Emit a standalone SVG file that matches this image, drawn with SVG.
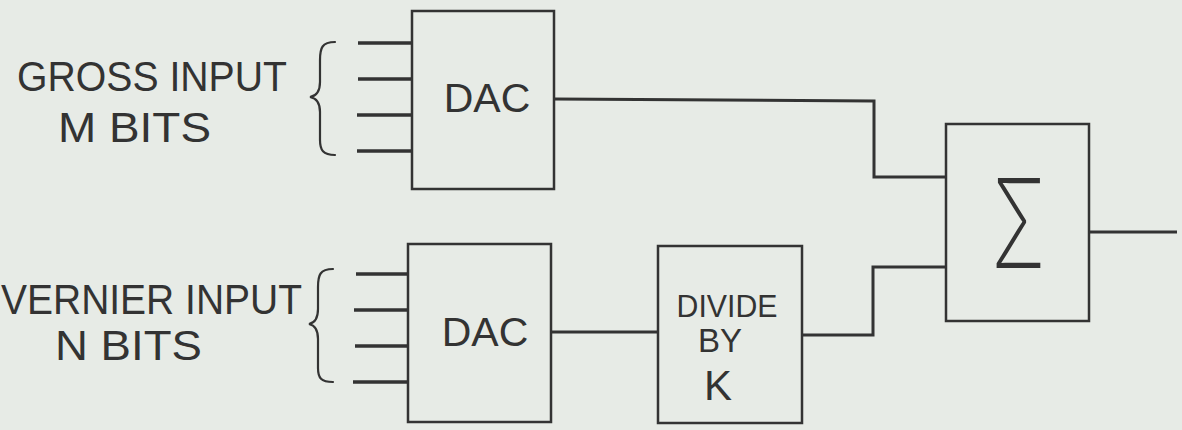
<svg xmlns="http://www.w3.org/2000/svg" width="1182" height="430" viewBox="0 0 1182 430">
<style>
.bg{fill:#e7ebe6}
.box{fill:none;stroke:#333;stroke-width:2.5}
.wire{fill:none;stroke:#333;stroke-width:3;stroke-linecap:butt;stroke-linejoin:miter}
.in{fill:none;stroke:#333;stroke-width:3.5}
.brace{fill:none;stroke:#333;stroke-width:2.2;stroke-linecap:round}
.t{font-family:"Liberation Sans",Arial,sans-serif;fill:#333}
</style>
<rect class="bg" x="0" y="0" width="1182" height="430"/>
<g id="gross-label">
<text class="t" x="17" y="91" font-size="43" textLength="270" lengthAdjust="spacingAndGlyphs">GROSS INPUT</text>
<text class="t" x="58" y="142" font-size="43" textLength="153" lengthAdjust="spacingAndGlyphs">M BITS</text>
<path class="brace" d="M335 42 C322 42 320 48 320 60 L320 82 C320 92 316 96 310 97 C316 98 320 102 320 112 L320 140 C320 150 323 155 335 155"/>
</g>
<g id="vernier-label">
<text class="t" x="1" y="314" font-size="42" textLength="301" lengthAdjust="spacingAndGlyphs">VERNIER INPUT</text>
<text class="t" x="55" y="360" font-size="43" textLength="147" lengthAdjust="spacingAndGlyphs">N BITS</text>
<path class="brace" d="M333 269 C320 269 318 275 318 287 L318 309 C318 319 314 323 309 324 C314 325 318 329 318 339 L318 368 C318 378 321 382 333 382"/>
</g>
<g id="dac-gross">
<rect class="box" x="412" y="11" width="142" height="178"/>
<text class="t" x="487" y="112" font-size="41" text-anchor="middle">DAC</text>
</g>
<g id="dac-vernier">
<rect class="box" x="408" y="244" width="143" height="178"/>
<text class="t" x="485" y="346" font-size="41" text-anchor="middle">DAC</text>
</g>
<g id="divide">
<rect class="box" x="658" y="246" width="144" height="177"/>
<text class="t" x="727" y="317" font-size="32" text-anchor="middle" textLength="101" lengthAdjust="spacingAndGlyphs">DIVIDE</text>
<text class="t" x="720" y="352" font-size="33" text-anchor="middle">BY</text>
<text class="t" x="718" y="400" font-size="42" text-anchor="middle">K</text>
</g>
<g id="sum">
<rect class="box" x="946" y="124" width="143" height="197"/>
<text class="t" x="991" y="268" font-size="124" font-weight="200" style="font-family:Inter,'DejaVu Sans',sans-serif" textLength="55" lengthAdjust="spacingAndGlyphs">Σ</text>
</g>
<g id="connectors">
<line class="in" x1="358" y1="43" x2="412" y2="43"/>
<line class="in" x1="358" y1="79" x2="412" y2="79"/>
<line class="in" x1="357" y1="115" x2="412" y2="115"/>
<line class="in" x1="357" y1="151" x2="412" y2="151"/>
<line class="in" x1="356" y1="274" x2="408" y2="274"/>
<line class="in" x1="354" y1="310" x2="408" y2="310"/>
<line class="in" x1="355" y1="346" x2="408" y2="346"/>
<line class="in" x1="353" y1="382" x2="408" y2="382"/>
<polyline class="wire" points="554,99 874,101 874,177 946,177"/>
<line class="wire" x1="551" y1="332" x2="658" y2="332"/>
<polyline class="wire" points="802,335 873,335 873,267 946,267"/>
<line class="wire" x1="1089" y1="232" x2="1177" y2="232"/>
</g>
</svg>
